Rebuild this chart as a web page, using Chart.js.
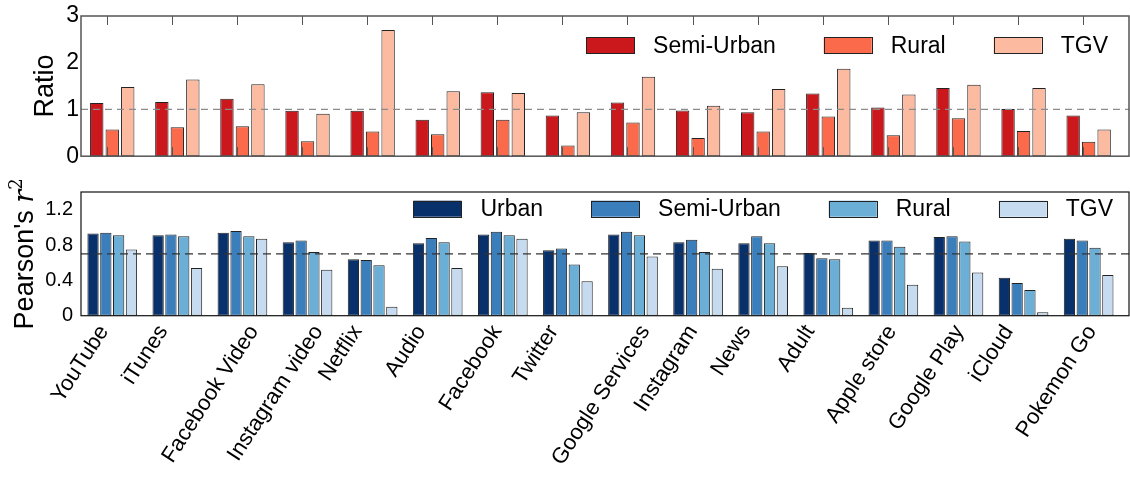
<!DOCTYPE html>
<html>
<head>
<meta charset="utf-8">
<script src="https://cdn.jsdelivr.net/npm/chart.js@4.4.0/dist/chart.umd.min.js"></script>
<style>
  html, body { margin: 0; padding: 0; background: #fff; }
  #wrap { position: relative; width: 1130px; height: 479px; overflow: hidden; }
  #ratioChart { position: absolute; left: 0; top: 0; }
  #pearsonChart { position: absolute; left: 0; top: 172px; }
</style>
</head>
<body>
<div id="wrap">
  <canvas id="ratioChart" width="1130" height="172"></canvas>
  <canvas id="pearsonChart" width="1130" height="307"></canvas>
</div>
<script>
// Applications on the x axis
const categories = ['YouTube', 'iTunes', 'Facebook Video', 'Instagram video', 'Netflix', 'Audio',
  'Facebook', 'Twitter', 'Google Services', 'Instagram', 'News', 'Adult', 'Apple store',
  'Google Play', 'iCloud', 'Pokemon Go'];

// Traffic ratio against the urban baseline
const ratioSemiUrban = [1.14, 1.16, 1.23, 0.97, 0.97, 0.78, 1.37, 0.87, 1.15, 0.98, 0.94, 1.34, 1.04, 1.46, 1.01, 0.87];
const ratioRural     = [0.57, 0.62, 0.64, 0.32, 0.53, 0.47, 0.78, 0.23, 0.72, 0.39, 0.53, 0.85, 0.45, 0.81, 0.54, 0.31];
const ratioTGV       = [1.48, 1.64, 1.54, 0.91, 2.70, 1.39, 1.35, 0.94, 1.70, 1.08, 1.44, 1.87, 1.32, 1.53, 1.46, 0.57];
const ratioTicks = [0, 1, 2, 3];
const ratioReference = 1;

// Pearson's r^2 per area type
const r2Urban     = [0.93, 0.91, 0.94, 0.83, 0.64, 0.82, 0.92, 0.74, 0.92, 0.83, 0.82, 0.71, 0.85, 0.89, 0.43, 0.87];
const r2SemiUrban = [0.94, 0.92, 0.96, 0.85, 0.63, 0.88, 0.95, 0.76, 0.95, 0.86, 0.90, 0.65, 0.85, 0.90, 0.37, 0.85];
const r2Rural     = [0.91, 0.90, 0.90, 0.72, 0.57, 0.83, 0.91, 0.58, 0.91, 0.72, 0.82, 0.64, 0.78, 0.84, 0.29, 0.77];
const r2TGV       = [0.75, 0.54, 0.87, 0.52, 0.10, 0.54, 0.87, 0.39, 0.67, 0.53, 0.56, 0.09, 0.35, 0.49, 0.04, 0.46];
const r2Ticks = [0, 0.4, 0.8, 1.2];
const r2Reference = 0.7;

const FONT = "'Liberation Sans', Arial, Helvetica, sans-serif";

const toPoints = arr => arr.map((v, i) => ({ x: i, y: v }));

// Frame, reference line, inward ticks, in-axes legend, y title and rotated category labels
const panelDecor = {
  id: 'panelDecor',
  afterDatasetsDraw(chart, args, opts) {
    const { ctx, chartArea: a, scales: { x, y } } = chart;
    ctx.save();

    // dashed reference line
    const ry = y.getPixelForValue(opts.refValue);
    ctx.strokeStyle = opts.refColor;
    ctx.lineWidth = 1.2;
    ctx.setLineDash(opts.refDash);
    ctx.beginPath();
    ctx.moveTo(a.left, ry);
    ctx.lineTo(a.right, ry);
    ctx.stroke();
    ctx.setLineDash([]);

    // inward tick marks on top and bottom spines
    if (opts.tickMarks) {
      ctx.strokeStyle = opts.frameColor;
      ctx.lineWidth = 1;
      categories.forEach((_, i) => {
        const px = Math.round(x.getPixelForValue(i + opts.tickShift)) + 0.5;
        ctx.beginPath();
        ctx.moveTo(px, a.top);
        ctx.lineTo(px, a.top + opts.tickLen);
        ctx.moveTo(px, a.bottom);
        ctx.lineTo(px, a.bottom - opts.tickLen);
        ctx.stroke();
      });
    }

    // axes frame
    ctx.strokeStyle = opts.frameColor;
    ctx.lineWidth = opts.frameWidth;
    ctx.strokeRect(a.left, a.top, a.right - a.left, a.bottom - a.top);

    // legend inside the axes, anchored to the upper right
    const L = opts.legend;
    ctx.font = `${L.size}px ${FONT}`;
    ctx.textBaseline = 'middle';
    ctx.textAlign = 'left';
    let xr = a.right - L.rightPad;
    const cy = a.top + L.dy;
    const items = chart.data.datasets;
    for (let k = items.length - 1; k >= 0; k--) {
      const it = items[k];
      const tw = ctx.measureText(it.label).width;
      const tx = xr - tw;
      const bx = tx - L.textGap - L.boxW;
      ctx.fillStyle = it.backgroundColor;
      ctx.fillRect(bx, cy - L.boxH / 2, L.boxW, L.boxH);
      ctx.strokeStyle = '#222';
      ctx.lineWidth = 1;
      ctx.strokeRect(Math.round(bx) + 0.5, Math.round(cy - L.boxH / 2) + 0.5, L.boxW, L.boxH);
      ctx.fillStyle = '#000';
      ctx.fillText(it.label, tx, cy + 1);
      xr = bx - L.colGap;
    }

    // y axis title, rotated
    const T = opts.yTitle;
    ctx.save();
    ctx.translate(T.x, (a.top + a.bottom) / 2);
    ctx.rotate(-Math.PI / 2);
    ctx.textBaseline = 'alphabetic';
    ctx.textAlign = 'left';
    let total = 0;
    T.parts.forEach(p => { ctx.font = p.font; p.w = ctx.measureText(p.text).width; total += p.w; });
    let cx = -total / 2;
    ctx.fillStyle = '#000';
    T.parts.forEach(p => { ctx.font = p.font; ctx.fillText(p.text, cx, p.dy || 0); cx += p.w; });
    ctx.restore();

    // rotated category labels under the lower panel
    const X = opts.xLabels;
    if (X) {
      ctx.font = `${X.size}px ${FONT}`;
      ctx.fillStyle = '#000';
      const th = X.angle * Math.PI / 180;
      categories.forEach((lab, i) => {
        const len = ctx.measureText(lab).width;
        const h = X.size * 1.15;
        const bh = len * Math.sin(th) + h * Math.cos(th);
        const lx = x.getPixelForValue(i + X.shift);
        const ly = a.bottom + X.pad + bh / 2;
        ctx.save();
        ctx.translate(lx, ly);
        ctx.rotate(-th);
        ctx.textAlign = 'center';
        ctx.textBaseline = 'middle';
        ctx.fillText(lab, 0, 0);
        ctx.restore();
      });
    }
    ctx.restore();
  }
};

const xScale = {
  type: 'linear',
  min: -0.48,
  max: 15.62,
  offset: false,
  display: false,
  afterBuildTicks: s => { s.ticks = categories.map((_, i) => ({ value: i })); }
};

const barStyle = { borderColor: '#222', borderWidth: 1, borderSkipped: false };

new Chart(document.getElementById('ratioChart'), {
  type: 'bar',
  data: {
    datasets: [
      { label: 'Semi-Urban', data: toPoints(ratioSemiUrban), backgroundColor: '#cb181d', ...barStyle },
      { label: 'Rural', data: toPoints(ratioRural), backgroundColor: '#fb6a4a', ...barStyle },
      { label: 'TGV', data: toPoints(ratioTGV), backgroundColor: '#fcbba1', ...barStyle }
    ]
  },
  options: {
    responsive: false,
    animation: false,
    devicePixelRatio: 1,
    categoryPercentage: 0.714,
    barPercentage: 0.865,
    layout: { padding: { top: 16, right: 1, bottom: 13.3, left: 0 } },
    scales: {
      x: xScale,
      y: {
        min: 0, max: 3,
        afterFit: s => { s.width = 81; },
        afterBuildTicks: s => { s.ticks = ratioTicks.map(v => ({ value: v })); },
        ticks: { font: { family: FONT, size: 23 }, color: '#000', padding: 2, callback: v => String(v) },
        grid: { display: false, drawTicks: false },
        border: { display: false }
      }
    },
    plugins: {
      legend: { display: false },
      tooltip: { enabled: false },
      panelDecor: {
        refValue: ratioReference, refColor: '#8c8c8c', refDash: [7, 5],
        frameColor: '#555', frameWidth: 1.5,
        tickMarks: true, tickShift: -0.085, tickLen: 9,
        legend: { size: 23, rightPad: 21, dy: 29.3, boxW: 48, boxH: 16, textGap: 19, colGap: 48 },
        yTitle: { x: 53, parts: [{ text: 'Ratio', font: `27px ${FONT}` }] }
      }
    }
  },
  plugins: [panelDecor]
});

new Chart(document.getElementById('pearsonChart'), {
  type: 'bar',
  data: {
    datasets: [
      { label: 'Urban', data: toPoints(r2Urban), backgroundColor: '#08306b', ...barStyle },
      { label: 'Semi-Urban', data: toPoints(r2SemiUrban), backgroundColor: '#3a7ebb', ...barStyle },
      { label: 'Rural', data: toPoints(r2Rural), backgroundColor: '#6baed6', ...barStyle },
      { label: 'TGV', data: toPoints(r2TGV), backgroundColor: '#c6dbef', ...barStyle }
    ]
  },
  options: {
    responsive: false,
    animation: false,
    devicePixelRatio: 1,
    categoryPercentage: 0.787,
    barPercentage: 0.88,
    layout: { padding: { top: 15.3, right: 1, bottom: 163.3, left: 0 } },
    scales: {
      x: xScale,
      y: {
        min: 0, max: 1.4,
        afterFit: s => { s.width = 81; },
        afterBuildTicks: s => { s.ticks = r2Ticks.map(v => ({ value: v })); },
        ticks: { font: { family: FONT, size: 20 }, color: '#000', padding: 8, callback: v => String(v) },
        grid: { display: false, drawTicks: false },
        border: { display: false }
      }
    },
    plugins: {
      legend: { display: false },
      tooltip: { enabled: false },
      panelDecor: {
        refValue: r2Reference, refColor: '#333', refDash: [8, 5],
        frameColor: '#111', frameWidth: 1.2,
        tickMarks: false,
        legend: { size: 23, rightPad: 16, dy: 16.7, boxW: 48, boxH: 16, textGap: 19, colGap: 48 },
        yTitle: {
          x: 33,
          parts: [
            { text: "Pearson's ", font: `27px ${FONT}` },
            { text: 'r', font: `italic 27px 'DejaVu Serif', 'Liberation Serif', serif` },
            { text: '2', font: `18px 'DejaVu Serif', 'Liberation Serif', serif`, dy: -11 }
          ]
        },
        xLabels: { size: 22, angle: 57, shift: -0.49, pad: 5 }
      }
    }
  },
  plugins: [panelDecor]
});
</script>
</body>
</html>
